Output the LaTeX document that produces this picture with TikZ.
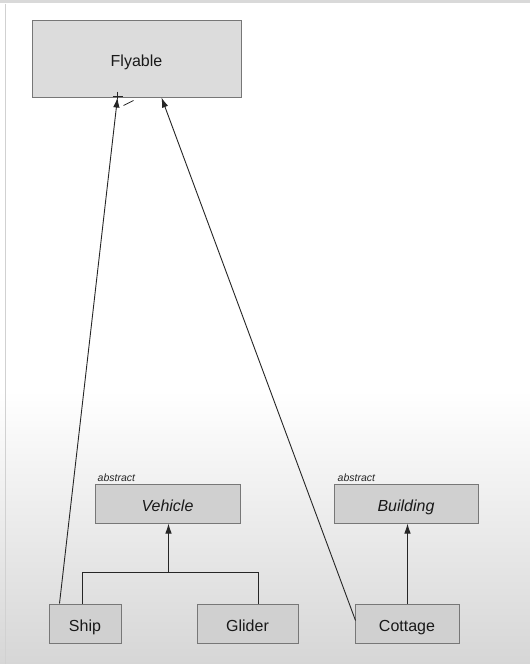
\documentclass[tikz,border=0pt]{standalone}
\usepackage{fontspec}
\setmainfont{Liberation Sans}
\usetikzlibrary{calc,arrows.meta}
\definecolor{boxfill}{HTML}{D0D0D0}
\definecolor{flyfill}{HTML}{DCDCDC}
\definecolor{boxline}{HTML}{777777}
\tikzset{
  classbox/.style={draw=boxline, fill=boxfill, line width=1pt, minimum height=39pt, inner sep=0pt, text height=15.5pt, text depth=0pt, font=\fontsize{16}{18}\selectfont, text=black!90},
  absbox/.style={classbox, font=\fontsize{16}{18}\selectfont\itshape},
  abslabel/.style={font=\fontsize{10.5}{11}\selectfont\itshape, inner sep=0pt, text=black!85},
  conn/.style={draw=black!85, line width=0.9pt},
  inh/.style={conn, -{Latex[length=10pt,width=6.5pt]}}
}
\begin{document}
\begin{tikzpicture}[x=1pt,y=-1pt]
\useasboundingbox (0,0) rectangle (530,664);
\fill[white] (0,0) rectangle (530,390);
\shade[top color=white, bottom color=black!16] (0,390) rectangle (530,664);
\fill[black!15] (0,0) rectangle (530,3);
\draw[black!18, line width=1pt] (5,4) -- (5,664);
% nodes
\node[classbox, fill=flyfill, minimum width=209pt, minimum height=77pt] (fly) at (136.5,58.5) {Flyable};
\node[absbox, minimum width=145pt] (veh) at (167.5,503.5) {Vehicle};
\node[absbox, minimum width=144pt] (bld) at (406,503.5) {Building};
\node[classbox, minimum width=72pt] (ship) at (85,623.5) {Ship};
\node[classbox, minimum width=101pt] (gli) at (247.5,623.5) {Glider};
\node[classbox, minimum width=104pt] (cot) at (407,623.5) {Cottage};
\node[abslabel, anchor=south west] (va) at ($(veh.north west)+(3,-2)$) {abstract};
\node[abslabel, anchor=south west] (ba) at ($(bld.north west)+(4,-2)$) {abstract};
% inheritance to Vehicle
\coordinate (shipTop) at ($(ship.north west)+(34,0)$);
\coordinate (gliTop) at ($(gli.north west)+(62,0)$);
\coordinate (jl) at ($(shipTop)+(0,-31)$);
\coordinate (jr) at ($(gliTop)+(0,-31)$);
\coordinate (jm) at ($(veh.south west)+(74,0)$);
\draw[conn] (shipTop) -- (jl) -- (jr) -- (gliTop);
\draw[inh] (jm |- jl) -- (jm);
% Cottage to Building
\draw[inh] ($(cot.north west)+(53,0)$) -- ($(bld.south west)+(74,0)$);
% realisations to Flyable
\coordinate (fs) at ($(fly.south west)+(86,0)$);
\coordinate (fc) at ($(fly.south west)+(130,0)$);
\draw[inh] ($(ship.north west)+(11,0)$) -- (fs);
\draw[inh] ($(cot.north west)+(1,17)$) -- (fc);
\draw[conn] ($(fs)+(-5,-1)$) -- ($(fs)+(5,-1)$);
\draw[conn] ($(fs)+(0,-6)$) -- ($(fs)+(0,1)$);
\draw[conn, line width=0.7pt] ($(fs)+(6,8)$) -- ($(fs)+(16,3)$);
\end{tikzpicture}
\end{document}
